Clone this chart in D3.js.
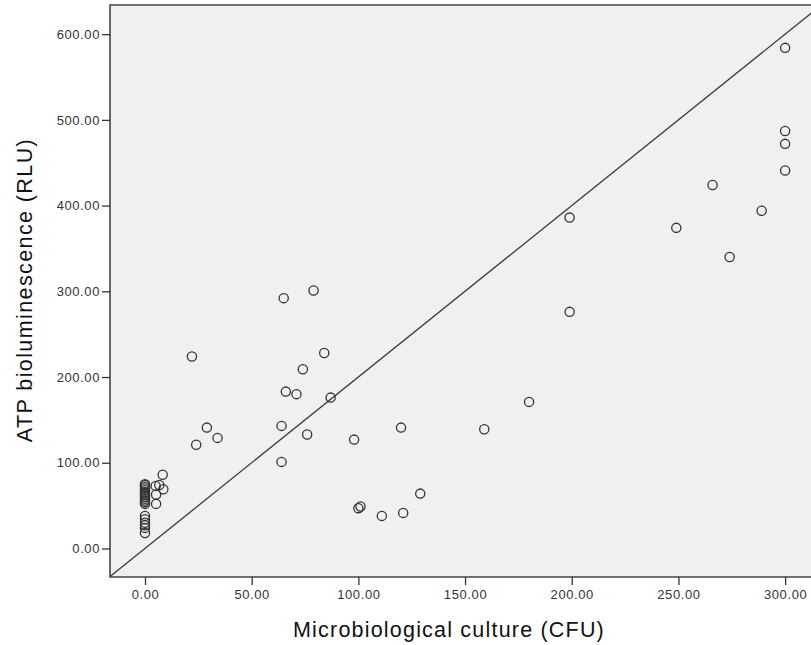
<!DOCTYPE html>
<html>
<head>
<meta charset="utf-8">
<script src="https://cdn.jsdelivr.net/npm/d3@7"></script>
<style>
  html, body { margin: 0; padding: 0; background: #ffffff; }
  svg { display: block; }
</style>
</head>
<body>
<script>
// ---- data ----
const cfu = [
  0,0,0,0,0,0,0,0,0,0,0,0,0,0,0,0,0,0,0,
  5,6.7,8.3,8.6,5.2,5.2,
  22,24,29,34,64,64,65,66,71,74,76,79,84,87,98,100,101,111,120,121,129,159,180,
  199,199,249,266,274,289,300,300,300,300
];
const rlu = [
  75,74,72,70,68,66,64,62,60,58,56,54,52,38,34,30,27,24,18,
  73,74,86,69,63,52,
  224,121,141,129,143,101,292,183,180,209,133,301,228,176,127,47,49,38,141,41.5,64,139,171,
  386,276,374,424,340,394,584,487,472,441
];
const xTicks = [0, 50, 100, 150, 200, 250, 300];
const yTicks = [0, 100, 200, 300, 400, 500, 600];
const xTitle = "Microbiological culture (CFU)";
const yTitle = "ATP bioluminescence (RLU)";
const refSlope = 2; // reference line: RLU = 2 x CFU

// ---- layout ----
const W = 811, H = 645;
const mLeft = 110, mRight = 812, mTop = 5, mBottom = 577;

const svg = d3.select("body").append("svg").attr("width", W).attr("height", H);

const x = d3.scaleLinear().domain([-16.4, 312.6]).range([mLeft, mRight]);
const y = d3.scaleLinear().domain([-33.3, 634]).range([mBottom, mTop]);

svg.append("defs").append("clipPath").attr("id", "clip")
  .append("rect").attr("x", mLeft).attr("y", mTop).attr("width", mRight - mLeft).attr("height", mBottom - mTop);

// plot background
svg.append("rect").attr("x", mLeft).attr("y", mTop).attr("width", mRight - mLeft).attr("height", mBottom - mTop)
  .attr("fill", "#f0f0f0");

const g = svg.append("g").attr("clip-path", "url(#clip)");

// reference line
const xd = x.domain();
g.append("line")
  .attr("x1", x(xd[0])).attr("y1", y(refSlope * xd[0]))
  .attr("x2", x(xd[1])).attr("y2", y(refSlope * xd[1]))
  .attr("stroke", "#3a3a3a").attr("stroke-width", 1.3);

// points
g.selectAll("circle.pt").data(cfu.map((v, i) => [v, rlu[i]])).enter().append("circle")
  .attr("class", "pt")
  .attr("cx", d => x(d[0])).attr("cy", d => y(d[1]))
  .attr("r", 4.6)
  .attr("fill", "none").attr("stroke", "#333").attr("stroke-width", 1.3);

// frame (top, left, bottom)
svg.append("path")
  .attr("d", `M${mRight},${mTop}H${mLeft}V${mBottom}H${mRight}`)
  .attr("fill", "none").attr("stroke", "#444").attr("stroke-width", 1.6);

const fmt = d3.format(".2f");

// axes
const xAxis = svg.append("g").attr("transform", `translate(0,${mBottom})`)
  .call(d3.axisBottom(x).tickValues(xTicks).tickFormat(fmt).tickSize(8).tickPadding(5));
const yAxis = svg.append("g").attr("transform", `translate(${mLeft},0)`)
  .call(d3.axisLeft(y).tickValues(yTicks).tickFormat(fmt).tickSize(8).tickPadding(2));

[xAxis, yAxis].forEach(a => {
  a.select(".domain").remove();
  a.selectAll(".tick line").attr("stroke", "#333").attr("stroke-width", 1.3);
  a.selectAll(".tick text")
    .attr("fill", "#333")
    .style("font-family", "'Liberation Sans', Arial, sans-serif")
    .style("font-size", "13px")
    .style("letter-spacing", "0.6px");
});

// titles
svg.append("text")
  .attr("x", (mLeft + 790) / 2 - 1).attr("y", 637)
  .attr("text-anchor", "middle")
  .attr("fill", "#111")
  .style("font-family", "'Liberation Sans', Arial, sans-serif")
  .style("font-size", "21.5px")
  .style("letter-spacing", "1.2px")
  .text(xTitle);

svg.append("text")
  .attr("transform", `translate(32,290) rotate(-90)`)
  .attr("text-anchor", "middle")
  .attr("fill", "#111")
  .style("font-family", "'Liberation Sans', Arial, sans-serif")
  .style("font-size", "21.5px")
  .style("letter-spacing", "1.4px")
  .text(yTitle);
</script>
</body>
</html>
